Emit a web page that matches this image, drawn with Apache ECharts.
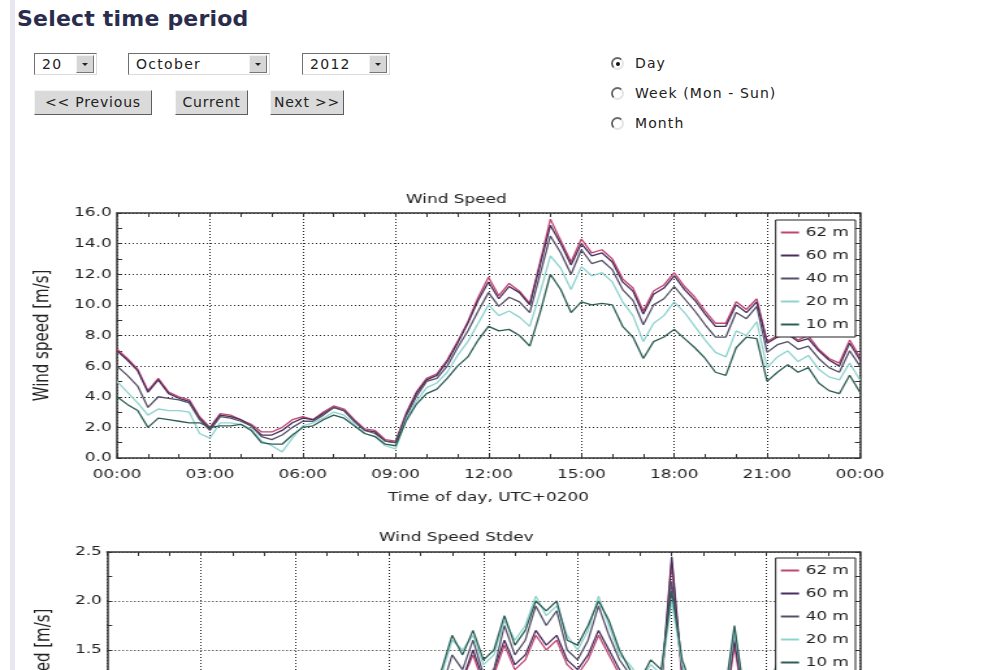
<!DOCTYPE html>
<html>
<head>
    <meta charset="utf-8">
    <title>Select time period</title>
    <script src="https://cdn.jsdelivr.net/npm/echarts/dist/echarts.min.js"></script>
    <style>
        html, body { margin: 0; padding: 0; width: 984px; height: 670px; overflow: hidden; background: #fff; }
        body { position: relative; font-family: "DejaVu Sans", sans-serif; color: #222; }
        .strip { position: absolute; left: 10px; top: 0; width: 5px; height: 670px; background: #e6e7f0; z-index: 5; }
        .head { position: absolute; left: 17px; top: 5px; margin: 0; font-size: 22px; line-height: 28px; font-weight: bold; color: #2a2c4e; letter-spacing: 0.2px; }
        .sel { position: absolute; top: 53px; height: 22px; box-sizing: border-box; background: #fff;
               border: 1px solid; border-color: #707070 #dcdcdc #dcdcdc #707070; font-size: 14px; letter-spacing: 1.3px; line-height: 20px; }
        .sel span { position: absolute; left: 7px; top: 0; }
        .sel i { position: absolute; right: 2px; top: 1px; width: 18px; height: 18px; box-sizing: border-box; background: #d6d6d6;
                 border: 1px solid; border-color: #f2f2f2 #777 #777 #f2f2f2; }
        .sel i:after { content: ""; position: absolute; left: 5px; top: 7px; border-left: 3px solid transparent; border-right: 3px solid transparent; border-top: 3px solid #222; }
        .btn { position: absolute; top: 90px; height: 25px; box-sizing: border-box; background: #dadada; text-align: center;
               border: 1px solid; border-color: #f4f4f4 #5e5e5e #5e5e5e #f4f4f4; font-size: 14px; letter-spacing: 0.8px; line-height: 23px; }
        .radio { position: absolute; left: 611px; font-size: 14px; letter-spacing: 1.1px; line-height: 18px; }
        .radio b { position: absolute; left: 0; top: 3px; width: 13px; height: 13px; box-sizing: border-box; border-radius: 50%;
                   border: 2px solid; border-color: #6a6a6a #e4e4e4 #e4e4e4 #6a6a6a; }
        .radio b.on:after { content: ""; position: absolute; left: 2.5px; top: 2.5px; width: 4px; height: 4px; border-radius: 50%; background: #111; }
        .radio span { position: absolute; left: 24px; top: 0; white-space: nowrap; }
        .chart { position: absolute; left: 0; width: 757px; transform: scaleX(1.3); transform-origin: 0 0; }
    </style>
</head>
<body>
<div class="strip"></div>
<h2 class="head">Select time period</h2>

<div class="sel" style="left:34px;width:63px"><span>20</span><i></i></div>
<div class="sel" style="left:128px;width:142px"><span>October</span><i></i></div>
<div class="sel" style="left:302px;width:88px"><span>2012</span><i></i></div>

<div class="btn" style="left:34px;width:118px">&lt;&lt; Previous</div>
<div class="btn" style="left:175px;width:73px">Current</div>
<div class="btn" style="left:270px;width:74px">Next &gt;&gt;</div>

<div class="radio" style="top:54px"><b class="on"></b><span>Day</span></div>
<div class="radio" style="top:84px"><b></b><span>Week (Mon - Sun)</span></div>
<div class="radio" style="top:114px"><b></b><span>Month</span></div>

<div id="chart1" class="chart" style="top:180px;height:330px;"></div>
<div id="chart2" class="chart" style="top:518px;height:300px;"></div>

<script type="text/javascript">
    // minutes of the day, one reading every 20 min
    var times = [0,20,40,60,80,100,120,140,160,180,200,220,240,260,280,300,320,340,360,380,400,420,440,460,480,500,520,540,
        560,580,600,620,640,660,680,700,720,740,760,780,800,820,840,860,880,900,920,940,960,980,1000,1020,1040,1060,1080,
        1100,1120,1140,1160,1180,1200,1220,1240,1260,1280,1300,1320,1340,1360,1380,1400,1420,1440];

    var heights = ['62 m', '60 m', '40 m', '20 m', '10 m'];
    var colors = ['#c2456e', '#4b2d5e', '#55506a', '#8fd3cf', '#2d5e55'];

    // wind speed [m/s]
    var speed62 = [7.1,6.5,5.8,4.4,5.2,4.3,4.0,3.8,2.7,2.0,2.9,2.8,2.5,2.2,1.7,1.7,2.0,2.5,2.7,2.5,
        3.0,3.4,3.2,2.5,1.9,1.8,1.2,1.1,2.9,4.3,5.2,5.5,6.4,7.6,8.9,10.5,11.8,10.6,11.4,10.9,
        10.1,12.8,15.6,14.2,12.8,14.3,13.4,13.6,13.0,11.7,11.1,9.6,10.9,11.3,12.1,11.2,10.5,9.6,8.8,8.8,
        10.2,9.7,10.4,7.6,8.0,8.2,7.7,8.0,7.1,6.5,6.2,7.7,6.6];
    var speed60 = [7.0,6.4,5.7,4.3,5.1,4.2,3.9,3.7,2.6,1.9,2.8,2.7,2.5,2.1,1.5,1.5,1.8,2.3,2.6,2.5,
        2.9,3.3,3.1,2.4,1.8,1.7,1.1,1.0,2.8,4.2,5.1,5.4,6.3,7.5,8.8,10.3,11.5,10.4,11.2,10.8,
        10.0,12.6,15.2,14.0,12.6,14.0,13.2,13.4,12.8,11.5,10.9,9.4,10.7,11.1,11.9,11.0,10.3,9.4,8.6,8.6,
        10.0,9.5,10.2,7.5,7.9,8.1,7.6,7.8,7.0,6.4,6.0,7.5,6.4];
    var speed40 = [6.0,5.4,4.7,3.3,4.0,3.9,3.8,3.6,2.5,1.8,2.7,2.6,2.4,2.1,1.4,1.2,1.5,2.0,2.4,2.4,
        2.8,3.3,3.1,2.4,1.8,1.6,1.1,1.0,2.7,4.0,5.0,5.2,6.0,7.2,8.3,9.6,10.8,9.9,10.5,10.2,
        9.5,12.0,14.5,13.4,12.0,13.6,12.7,12.9,12.3,11.0,10.3,8.7,10.0,10.4,11.2,10.4,9.6,8.7,7.9,7.9,
        9.5,9.1,9.9,6.9,7.4,7.6,7.1,7.3,6.5,5.9,5.6,7.0,6.0];
    var speed20 = [5.0,4.3,3.6,2.8,3.2,3.1,3.1,3.0,1.6,1.3,2.3,2.3,2.2,1.9,1.1,0.8,0.4,1.3,2.1,2.3,
        2.6,3.0,2.8,2.2,1.6,1.4,0.8,0.6,2.5,3.7,4.6,4.9,5.6,6.7,7.6,8.8,10.0,9.3,9.6,9.2,
        8.6,10.8,13.2,12.4,11.0,12.5,11.9,12.1,11.5,10.2,9.3,7.6,8.8,9.3,10.2,9.5,8.6,7.7,6.9,6.6,
        8.3,8.0,8.9,5.9,6.6,7.0,6.3,6.7,5.8,5.3,5.1,6.2,5.1];
    var speed10 = [4.0,3.5,3.1,2.0,2.6,2.5,2.4,2.3,2.3,2.0,2.1,2.1,2.2,1.8,1.0,0.9,0.9,1.5,2.0,2.1,
        2.5,2.8,2.6,2.1,1.6,1.4,0.9,0.8,2.4,3.5,4.2,4.5,5.2,6.0,6.6,7.7,8.6,8.3,8.4,8.0,
        7.3,9.5,12.0,11.0,9.5,10.2,10.0,10.1,10.0,8.6,7.9,6.5,7.6,7.9,8.4,7.8,7.2,6.5,5.6,5.4,
        7.2,7.9,7.8,5.0,5.6,6.1,5.6,5.9,4.9,4.4,4.2,5.4,4.3];

    // wind speed standard deviation [m/s]
    var stdev62 = [0.4,0.5,0.5,0.4,0.4,0.4,0.3,0.4,0.3,0.3,0.3,0.3,0.2,0.2,0.2,0.2,0.3,0.3,0.3,0.3,
        0.3,0.2,0.2,0.2,0.2,0.2,0.2,0.2,0.4,0.5,0.7,0.8,1.0,1.25,1.2,1.45,1.15,1.25,1.55,1.3,
        1.4,1.65,1.5,1.6,1.35,1.25,1.4,1.65,1.45,1.25,1.15,1.05,1.2,1.1,2.4,1.2,0.9,0.8,0.75,0.8,
        1.55,0.85,0.95,0.7,1.2,0.7,0.65,0.7,0.55,0.6,0.55,0.7,0.5];
    var stdev60 = [0.4,0.5,0.5,0.4,0.5,0.4,0.4,0.4,0.3,0.3,0.3,0.3,0.3,0.2,0.2,0.2,0.3,0.3,0.3,0.3,
        0.3,0.3,0.2,0.2,0.2,0.2,0.2,0.2,0.4,0.5,0.7,0.8,1.0,1.3,1.2,1.5,1.2,1.3,1.6,1.35,
        1.45,1.7,1.55,1.65,1.4,1.3,1.45,1.7,1.5,1.3,1.2,1.1,1.25,1.15,2.45,1.25,0.95,0.85,0.8,0.85,
        1.6,0.9,1.0,0.75,1.25,0.75,0.7,0.75,0.6,0.65,0.6,0.75,0.55];
    var stdev40 = [0.5,0.5,0.6,0.5,0.5,0.4,0.4,0.4,0.3,0.3,0.3,0.3,0.3,0.3,0.2,0.3,0.3,0.3,0.3,0.3,
        0.3,0.3,0.3,0.2,0.2,0.2,0.2,0.3,0.4,0.6,0.8,0.9,1.1,1.45,1.3,1.6,1.25,1.3,1.75,1.45,
        1.6,1.95,1.75,1.9,1.5,1.4,1.6,1.95,1.65,1.4,1.25,1.15,1.3,1.2,2.2,1.3,1.0,0.9,0.85,0.9,
        1.7,0.95,1.1,0.8,1.3,0.8,0.75,0.8,0.65,0.7,0.65,0.8,0.6];
    var stdev20 = [0.5,0.6,0.7,0.5,0.6,0.5,0.4,0.5,0.4,0.3,0.4,0.4,0.3,0.3,0.3,0.3,0.4,0.4,0.4,0.4,
        0.4,0.4,0.3,0.3,0.3,0.2,0.3,0.3,0.5,0.7,0.9,1.0,1.25,1.6,1.5,1.65,1.35,1.45,1.8,1.6,
        1.75,2.05,1.85,1.95,1.65,1.5,1.7,2.05,1.75,1.45,1.35,1.2,1.35,1.25,2.0,1.35,1.05,0.95,0.9,0.95,
        1.7,1.0,1.15,0.85,1.3,0.85,0.8,0.85,0.7,0.75,0.7,0.85,0.65];
    var stdev10 = [0.6,0.7,0.8,0.6,0.7,0.5,0.5,0.6,0.4,0.4,0.5,0.4,0.4,0.3,0.3,0.4,0.4,0.5,0.4,0.5,
        0.5,0.4,0.4,0.3,0.3,0.3,0.3,0.4,0.6,0.8,0.9,1.1,1.3,1.65,1.45,1.7,1.4,1.5,1.85,1.55,
        1.7,2.0,1.9,2.0,1.6,1.55,1.75,2.0,1.8,1.5,1.3,1.2,1.4,1.3,2.1,1.4,1.1,1.0,0.9,1.0,
        1.75,1.0,1.2,0.9,1.35,0.9,0.8,0.9,0.7,0.8,0.7,0.9,0.7];

    var FONT = 'DejaVu Sans';
    var INK = '#333';

    function hourLabel(v) {
        var h = Math.round(v / 60) % 24;
        return (h < 10 ? '0' : '') + h + ':00';
    }

    function pairs(values) {
        return times.map(function (t, i) { return [t, values[i]]; });
    }

    // frame axis: ticks pointing inward, no labels
    function frameAxis(extra) {
        var ax = {
            axisLine: { show: true, onZero: false, lineStyle: { color: INK, width: 1.5 } },
            axisTick: { show: true, inside: true, length: 4, lineStyle: { color: INK } },
            minorTick: { show: true, length: 4, lineStyle: { color: INK } },
            axisLabel: { show: false },
            splitLine: { show: false }
        };
        for (var k in extra) ax[k] = extra[k];
        return ax;
    }

    function buildOption(cfg) {
        var xBase = { type: 'value', min: 0, max: 1440, interval: 180 };
        var yBase = { type: 'value', min: 0, max: cfg.yMax, interval: cfg.yStep };

        var xBottom = frameAxis(xBase);
        xBottom.position = 'bottom';
        xBottom.minorTick.splitNumber = 3;
        xBottom.axisLabel = { show: true, margin: 10, color: '#222', fontFamily: FONT, fontSize: 13, formatter: hourLabel };
        xBottom.splitLine = { show: true, lineStyle: { color: '#222', width: 1, type: [1, 2] } };
        if (cfg.xName) {
            xBottom.name = cfg.xName;
            xBottom.nameLocation = 'middle';
            xBottom.nameGap = 33;
            xBottom.nameTextStyle = { color: '#222', fontFamily: FONT, fontSize: 13 };
        }
        var xTop = frameAxis(xBase);
        xTop.position = 'top';
        xTop.minorTick.splitNumber = 3;

        var yLeft = frameAxis(yBase);
        yLeft.position = 'left';
        yLeft.minorTick.splitNumber = 2;
        yLeft.axisLabel = { show: true, margin: 4, color: '#222', fontFamily: FONT, fontSize: 13,
            formatter: function (v) { return v.toFixed(1); } };
        yLeft.splitLine = { show: true, lineStyle: { color: '#222', width: 1, type: [1, 2] } };
        yLeft.name = cfg.yName;
        yLeft.nameLocation = 'middle';
        yLeft.nameRotate = 90;
        yLeft.nameGap = cfg.yNameGap;
        yLeft.nameTextStyle = { color: '#222', fontFamily: FONT, fontSize: 15 };
        var yRight = frameAxis(yBase);
        yRight.position = 'right';
        yRight.minorTick.splitNumber = 2;

        return {
            animation: false,
            backgroundColor: 'transparent',
            color: colors,
            title: {
                text: cfg.title,
                left: 346,
                top: 8,
                textAlign: 'center',
                textStyle: { color: '#222', fontFamily: FONT, fontSize: 13, fontWeight: 'normal' }
            },
            legend: {
                data: heights,
                orient: 'vertical',
                right: 99,
                top: 40,
                padding: [6, 5, 6, 4],
                itemGap: 10,
                itemWidth: 14,
                itemHeight: 2,
                icon: 'rect',
                backgroundColor: '#fff',
                borderColor: '#222',
                borderWidth: 1,
                borderRadius: 0,
                textStyle: { color: '#222', fontFamily: FONT, fontSize: 13 },
                z: 10
            },
            grid: { left: cfg.left, top: cfg.top, width: cfg.width, height: 245, outerBoundsMode: 'none', containLabel: false,
                show: true, backgroundColor: '#fff', borderWidth: 0 },
            xAxis: [xBottom, xTop],
            yAxis: [yLeft, yRight],
            series: cfg.data.map(function (vals, i) {
                return {
                    name: heights[i],
                    type: 'line',
                    data: pairs(vals),
                    showSymbol: false,
                    symbol: 'none',
                    lineStyle: { width: 1.3, color: colors[i] },
                    itemStyle: { color: colors[i] },
                    emphasis: { disabled: true }
                };
            })
        };
    }

    var chart1 = echarts.init(document.getElementById('chart1'));
    chart1.setOption(buildOption({
        title: 'Wind Speed',
        yName: 'Wind speed [m/s]',
        xName: 'Time of day, UTC+0200',
        yMax: 16, yStep: 2, yNameGap: 49,
        left: 90, top: 33, width: 571.5,
        data: [speed62, speed60, speed40, speed20, speed10]
    }));

    var chart2 = echarts.init(document.getElementById('chart2'));
    chart2.setOption(buildOption({
        title: 'Wind Speed Stdev',
        yName: 'Wind speed [m/s]',
        xName: 'Time of day, UTC+0200',
        yMax: 2.5, yStep: 0.5, yNameGap: 41,
        left: 82.3, top: 34, width: 579.2,
        data: [stdev62, stdev60, stdev40, stdev20, stdev10]
    }));
</script>
</body>
</html>
